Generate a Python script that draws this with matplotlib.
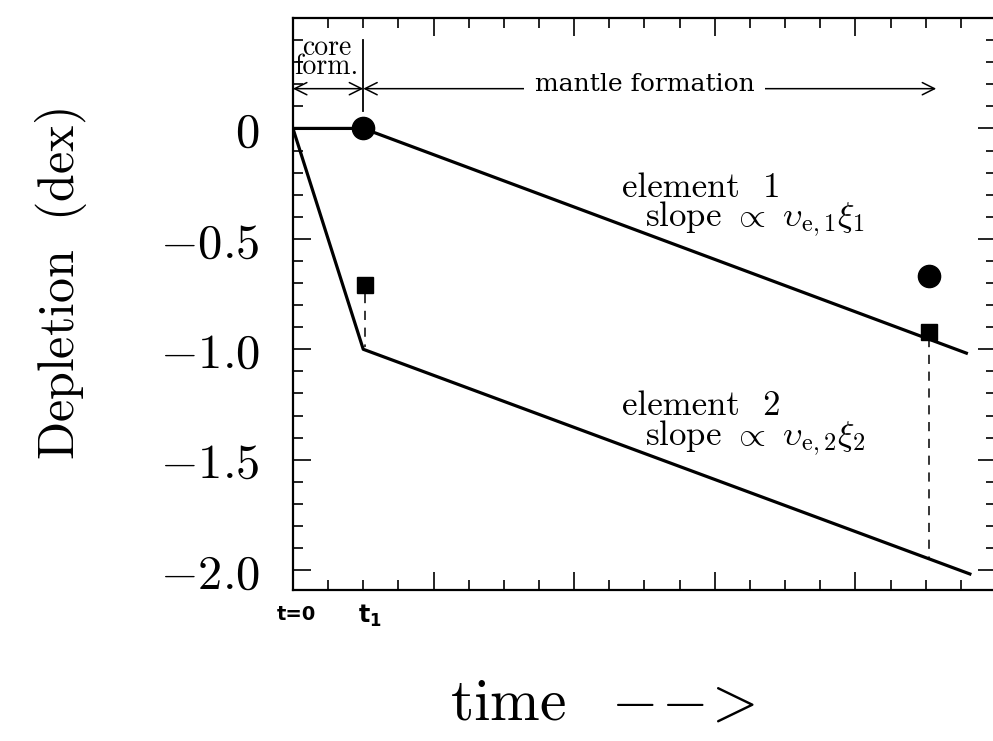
import numpy as np
import matplotlib
matplotlib.use('Agg')
import matplotlib.pyplot as plt
from matplotlib.ticker import MultipleLocator, NullFormatter

plt.rcParams['mathtext.fontset'] = 'cm'
plt.rcParams['font.family'] = ['DejaVu Serif']

# data (time in arbitrary units, depletion in dex)
t_elem1 = [0, 2, 19.2]
d_elem1 = [0.0, 0.0, -1.02]
t_elem2 = [0, 2, 19.3]
d_elem2 = [0.0, -1.0, -2.02]

t_circ = [2, 18.1]
d_circ = [0.0, -0.67]
t_sq = [2.05, 18.1]
d_sq = [-0.71, -0.92]
# dashed drop lines from the squares down to element 2
drop_t = [2.05, 18.1]
drop_top = [-0.75, -0.95]
drop_bot = [-0.99, -1.95]

yticks = [0, -0.5, -1.0, -1.5, -2.0]
ytick_labels = [r'$0$', r'$-0.5$', r'$-1.0$', r'$-1.5$', r'$-2.0$']

t1 = 2
t_mantle_end = 18.3

fig = plt.figure(figsize=(9.93, 7.41), dpi=100)
ax = fig.add_axes([0.295, 0.2038, 0.708, 0.7719])

ax.plot(t_elem1, d_elem1, color='black', lw=2.3, solid_capstyle='butt')
ax.plot(t_elem2, d_elem2, color='black', lw=2.3, solid_capstyle='butt')
ax.plot(t_circ, d_circ, 'o', color='black', ms=16)
ax.plot(t_sq, d_sq, 's', color='black', ms=11)
for t, a, b in zip(drop_t, drop_top, drop_bot):
    ax.plot([t, t], [a, b], color='black', lw=1.1, ls=(0, (6, 5)))

ax.set_xlim(0, 20)
ax.set_ylim(-2.09, 0.5)

ax.xaxis.set_major_locator(MultipleLocator(4))
ax.xaxis.set_minor_locator(MultipleLocator(1))
ax.yaxis.set_major_locator(MultipleLocator(0.5))
ax.yaxis.set_minor_locator(MultipleLocator(0.1))
ax.xaxis.set_major_formatter(NullFormatter())
ax.set_yticks(yticks)
ax.set_yticklabels(ytick_labels, fontsize=35)
ax.tick_params(which='both', direction='in', top=True, right=True, width=1.2)
ax.tick_params(which='major', length=13)
ax.tick_params(which='minor', length=7)
ax.tick_params(axis='y', which='major', pad=24)
for s in ax.spines.values():
    s.set_linewidth(1.6)

ax.set_ylabel(r'$\mathrm{Depletion\ \ (dex)}$', fontsize=36)
ax.yaxis.set_label_coords(-0.29, 0.535)
fig.text(0.607, 0.052, r'$\mathrm{time}\ \ -\!\!-\!\!>$', fontsize=43,
         ha='center', va='center')

# custom time labels under the axis
ax.text(0.1, -2.16, 't=0', ha='center', va='top', fontsize=14,
        family='DejaVu Sans', fontweight='bold')
ax.text(t1 + 0.2, -2.15, r'$\mathbf{t_1}$', ha='center', va='top', fontsize=17,
        math_fontfamily='dejavusans')

# core / mantle formation markers
ax.plot([t1, t1], [0.08, 0.4], color='black', lw=1.3)
ax.annotate('', xy=(0, 0.18), xytext=(t1, 0.18),
            arrowprops=dict(arrowstyle='<->', lw=1.1, color='black',
                            shrinkA=0, shrinkB=0, mutation_scale=22))
ax.annotate('', xy=(t1, 0.18), xytext=(t_mantle_end, 0.18),
            arrowprops=dict(arrowstyle='<->', lw=1.1, color='black',
                            shrinkA=0, shrinkB=0, mutation_scale=22))
ax.text(0.95, 0.22, 'core\nform.', ha='center', va='bottom', fontsize=20,
        family='cmr10', linespacing=0.62)
ax.text(10.0, 0.2, 'mantle formation', ha='center', va='center', fontsize=18,
        bbox=dict(facecolor='white', edgecolor='none', pad=8))

ax.text(9.35, -0.35, 'element  1\n  slope $\\propto$ $\\upsilon_{\\rm e,1}\\xi_1$',
        ha='left', va='center', fontsize=25, family='cmr10',
        multialignment='left', linespacing=0.85)
ax.text(9.35, -1.34, 'element  2\n  slope $\\propto$ $\\upsilon_{\\rm e,2}\\xi_2$',
        ha='left', va='center', fontsize=25, family='cmr10',
        multialignment='left', linespacing=0.85)

fig.savefig('out.png', dpi=100)
